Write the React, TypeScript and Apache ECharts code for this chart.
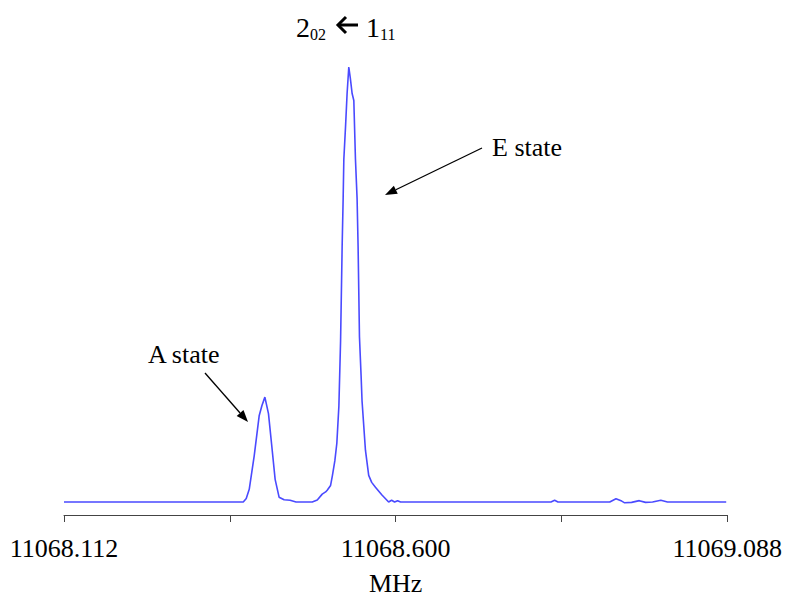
import React, { useEffect, useRef } from "react";
import * as echarts from "echarts";

const freqMHz: number[] = [
  11068.112, 11068.3758, 11068.3802, 11068.3846, 11068.3919, 11068.3992, 11068.4032,
  11068.4076, 11068.4129, 11068.4178, 11068.4227, 11068.4285, 11068.4359, 11068.4447,
  11068.4535, 11068.4773, 11068.4847, 11068.492, 11068.497, 11068.4993, 11068.5043,
  11068.5069, 11068.5106, 11068.5135, 11068.5165, 11068.519, 11068.5213, 11068.5228,
  11068.5238, 11068.5263, 11068.5286, 11068.5311, 11068.5333, 11068.536, 11068.5385,
  11068.5409, 11068.5433, 11068.5448, 11068.5468, 11068.5492, 11068.5506, 11068.5556,
  11068.5604, 11068.5648, 11068.5703, 11068.5799, 11068.5897, 11068.5941, 11068.5985,
  11068.6029, 11068.6073, 11068.8286, 11068.834, 11068.8389, 11068.9151, 11068.9243,
  11068.9327, 11068.9371, 11068.9473, 11068.9586, 11068.9678, 11068.9781, 11068.9903,
  11069.0001, 11069.0865,
];

const intensity: number[] = [
  0, 0, 0.8, 2.9, 10.6, 19.8, 22.1,
  24.1, 20.3, 12.8, 5.2, 1.1, 0.5, 0.4,
  0, 0, 0.45, 1.8, 2.3, 2.7, 3.8,
  6.0, 9.5, 13.5, 22, 37, 58.6, 69.8,
  78.8, 86.3, 93.9, 100, 97.5, 93.9, 92.3,
  78.8, 69.8, 58.6, 38, 29, 23.2, 11.9,
  6.1, 4.5, 3.4, 1.6, 0, 0.4, 0,
  0.3, 0, 0, 0.4, 0, 0, 0.75,
  0.2, -0.2, -0.1, 0.3, -0.1, 0, 0.4,
  0, 0,
];

const xMin = 11068.112;
const xMax = 11069.088;
const xInterval = 0.244;
const tickLabels: string[] = ["11068.112", "11068.600", "11069.088"];

const titleMain = ["2", "1"];
const titleSub = ["02", "11"];
const annotations = ["A state", "E state"];

const FONT = "Liberation Serif, DejaVu Serif, serif";

function arrow(x1: number, y1: number, x2: number, y2: number, headLen = 12, headW = 4.5) {
  const dx = x2 - x1;
  const dy = y2 - y1;
  const len = Math.sqrt(dx * dx + dy * dy);
  const ux = dx / len;
  const uy = dy / len;
  const bx = x2 - ux * headLen;
  const by = y2 - uy * headLen;
  const px = -uy * headW;
  const py = ux * headW;
  return [
    {
      type: "line",
      shape: { x1, y1, x2: bx, y2: by },
      style: { stroke: "#000", lineWidth: 1.3 },
    },
    {
      type: "polygon",
      shape: { points: [[x2, y2], [bx + px, by + py], [bx - px, by - py]] },
      style: { fill: "#000" },
    },
  ];
}

function txt(text: string, x: number, y: number, size: number) {
  return {
    type: "text",
    x,
    y,
    style: { text, fontFamily: FONT, fontSize: size, fill: "#000", verticalAlign: "middle" },
  };
}

export default function App() {
  const ref = useRef<HTMLDivElement>(null);
  useEffect(() => {
    if (!ref.current) return;
    const chart = echarts.init(ref.current, null, { renderer: "svg" });
    const data = freqMHz.map((f, i) => [f, intensity[i]]);
    chart.setOption({
      animation: false,
      backgroundColor: "#fff",
      grid: { left: 64, right: 55, top: 67, bottom: 78 },
      xAxis: {
        type: "value",
        min: xMin,
        max: xMax,
        interval: xInterval,
        name: "MHz",
        nameLocation: "middle",
        nameGap: 55,
        nameTextStyle: { fontFamily: FONT, fontSize: 26, color: "#000" },
        axisLine: { onZero: false, lineStyle: { color: "#444", width: 1 } },
        axisTick: { show: true, length: 7, lineStyle: { color: "#444" } },
        splitLine: { show: false },
        axisLabel: {
          margin: 20,
          fontFamily: FONT,
          fontSize: 26,
          color: "#000",
          showMinLabel: true,
          showMaxLabel: true,
          formatter: (v: number) => {
            for (const t of tickLabels) {
              if (Math.abs(parseFloat(t) - v) < 1e-6) return t;
            }
            return "";
          },
        },
      },
      yAxis: {
        type: "value",
        min: -3,
        max: 100,
        show: false,
        splitLine: { show: false },
      },
      series: [
        {
          type: "line",
          data,
          showSymbol: false,
          symbol: "none",
          smooth: false,
          lineStyle: { color: "#4a4aff", width: 1.6 },
        },
      ],
      graphic: [
        txt(titleMain[0], 296, 27, 28),
        txt(titleSub[0], 310, 34, 16),
        { type: "line", shape: { x1: 338, y1: 25, x2: 358, y2: 25 }, style: { stroke: "#000", lineWidth: 3 } },
        { type: "polyline", shape: { points: [[346, 17], [338, 25], [346, 33]] }, style: { stroke: "#000", lineWidth: 3, fill: null } },
        txt(titleMain[1], 366, 27, 28),
        txt(titleSub[1], 380, 34, 16),
        txt(annotations[0], 148, 354, 26),
        txt(annotations[1], 492, 147, 26),
        ...arrow(205, 373, 248, 422),
        ...arrow(482, 148, 385, 195),
      ],
    });
    return () => chart.dispose();
  }, []);
  return (
    <div
      ref={ref}
      style={{ position: "fixed", left: 0, top: 0, width: 785, height: 601 }}
    />
  );
}
